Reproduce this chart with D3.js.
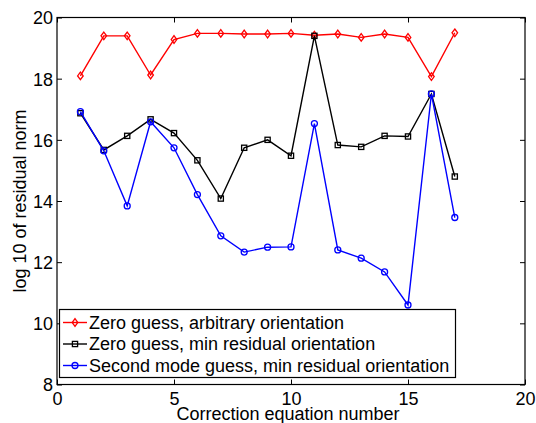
<!DOCTYPE html>
<html>
<head>
<meta charset="utf-8">
<script src="https://cdn.jsdelivr.net/npm/d3@7"></script>
<style>
  html, body { margin: 0; padding: 0; background: #fff; }
  svg { display: block; }
  text { font-family: "Liberation Sans", Arial, sans-serif; fill: #000; }
</style>
</head>
<body>
<svg id="chart" width="536" height="423"></svg>
<script>
// Equation indices
const equations = [1, 2, 3, 4, 5, 6, 7, 8, 9, 10, 11, 12, 13, 14, 15, 16, 17];

// log10 of residual norm per equation, for each strategy
const zeroArbitrary = [18.09, 19.40, 19.40, 18.12, 19.28, 19.48, 19.48, 19.46, 19.46, 19.48, 19.42, 19.46, 19.35, 19.46, 19.35, 18.07, 19.50];
const zeroMinResidual = [16.87, 15.67, 16.13, 16.67, 16.22, 15.33, 14.08, 15.74, 16.00, 15.48, 19.40, 15.83, 15.77, 16.13, 16.11, 17.50, 14.80];
const secondModeMinResidual = [16.92, 15.64, 13.84, 16.59, 15.74, 14.21, 12.86, 12.33, 12.49, 12.50, 16.53, 12.40, 12.13, 11.68, 10.60, 17.50, 13.46];

const seriesNames = [
  "Zero guess, arbitrary orientation",
  "Zero guess, min residual orientation",
  "Second mode guess, min residual orientation"
];

const xTicks = [0, 5, 10, 15, 20];
const yTicks = [8, 10, 12, 14, 16, 18, 20];

const series = [
  { name: seriesNames[0], values: zeroArbitrary, color: "#ff0000", marker: "diamond" },
  { name: seriesNames[1], values: zeroMinResidual, color: "#000000", marker: "square" },
  { name: seriesNames[2], values: secondModeMinResidual, color: "#0000ff", marker: "circle" }
];

const margin = { left: 57, top: 17.5, right: 11, bottom: 38.5 };
const W = 536, H = 423;
const FS = "18px";
const svg = d3.select("#chart");

const x = d3.scaleLinear().domain([0, 20]).range([margin.left, W - margin.right]);
const y = d3.scaleLinear().domain([8, 20]).range([H - margin.bottom, margin.top]);

const tickLen = 5;
// bottom axis
const gx = svg.append("g").attr("transform", `translate(0,${y(8)})`)
  .call(d3.axisBottom(x).tickValues(xTicks).tickSizeInner(-tickLen).tickSizeOuter(0).tickPadding(8));
// left axis
const gy = svg.append("g").attr("transform", `translate(${x(0)},0)`)
  .call(d3.axisLeft(y).tickValues(yTicks).tickSizeInner(-tickLen).tickSizeOuter(0).tickPadding(4));
// mirrored top and right ticks
const gt = svg.append("g").attr("transform", `translate(0,${y(20)})`)
  .call(d3.axisTop(x).tickValues(xTicks).tickSizeInner(-tickLen).tickSizeOuter(0).tickFormat(""));
const gr = svg.append("g").attr("transform", `translate(${x(20)},0)`)
  .call(d3.axisRight(y).tickValues(yTicks).tickSizeInner(-tickLen).tickSizeOuter(0).tickFormat(""));

[gx, gy, gt, gr].forEach(g => {
  g.select(".domain").remove();
  g.selectAll(".tick line").attr("stroke", "#000").attr("stroke-width", 1);
  g.selectAll(".tick text").style("font-size", FS).attr("fill", "#000");
});
gy.selectAll(".tick text").attr("dy", "0.36em");

// plot frame
svg.append("rect")
  .attr("x", x(0)).attr("y", y(20))
  .attr("width", x(20) - x(0)).attr("height", y(8) - y(20))
  .attr("fill", "none").attr("stroke", "#000").attr("stroke-width", 1.2);

// axis titles
svg.append("text")
  .attr("x", (x(0) + x(20)) / 2 - 3).attr("y", 419.5)
  .attr("text-anchor", "middle").style("font-size", FS)
  .text("Correction equation number");
svg.append("text")
  .attr("transform", `translate(26,${(y(8) + y(20)) / 2}) rotate(-90)`)
  .attr("text-anchor", "middle").style("font-size", FS)
  .text("log 10 of residual norm");

function drawMarker(g, type, cx, cy, color) {
  if (type === "diamond") {
    g.append("path")
      .attr("d", `M${cx},${cy - 3.8}L${cx + 2.8},${cy}L${cx},${cy + 3.8}L${cx - 2.8},${cy}Z`)
      .attr("fill", "none").attr("stroke", color).attr("stroke-width", 1.3);
  } else if (type === "square") {
    g.append("rect")
      .attr("x", cx - 2.6).attr("y", cy - 2.6).attr("width", 5.2).attr("height", 5.2)
      .attr("fill", "none").attr("stroke", color).attr("stroke-width", 1.3);
  } else {
    g.append("circle")
      .attr("cx", cx).attr("cy", cy).attr("r", 3)
      .attr("fill", "none").attr("stroke", color).attr("stroke-width", 1.3);
  }
}

const line = d3.line().x(d => x(d[0])).y(d => y(d[1]));

series.forEach(s => {
  const pts = equations.map((e, i) => [e, s.values[i]]);
  const g = svg.append("g");
  g.append("path").datum(pts)
    .attr("d", line).attr("fill", "none")
    .attr("stroke", s.color).attr("stroke-width", 1.4);
  pts.forEach(p => drawMarker(g, s.marker, x(p[0]), y(p[1]), s.color));
});

// legend
const lg = svg.append("g");
lg.append("rect")
  .attr("x", 59.5).attr("y", 309.5).attr("width", 396).attr("height", 68)
  .attr("fill", "#fff").attr("stroke", "#000").attr("stroke-width", 1.2);
series.forEach((s, i) => {
  const cy = 322.5 + i * 21.5;
  lg.append("line").attr("x1", 63).attr("x2", 87).attr("y1", cy).attr("y2", cy)
    .attr("stroke", s.color).attr("stroke-width", 1.4);
  drawMarker(lg, s.marker, 75, cy, s.color);
  lg.append("text").attr("x", 89).attr("y", cy + 6.3)
    .style("font-size", FS).text(s.name);
});
</script>
</body>
</html>
